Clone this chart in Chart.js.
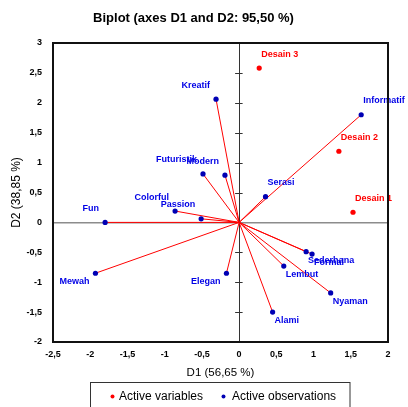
<!DOCTYPE html>
<html>
<head>
<meta charset="utf-8">
<script src="https://cdn.jsdelivr.net/npm/chart.js@4.4.1/dist/chart.umd.min.js"></script>
<style>
  html, body { margin: 0; padding: 0; background: #ffffff; }
  #wrap { width: 408px; height: 407px; position: relative; }
</style>
</head>
<body>
<div id="wrap"><canvas id="biplot" width="408" height="407"></canvas></div>
<script>
// Observations (blue points, each joined to the origin by a red vector)
const observations = ['Kreatif', 'Futuristik', 'Modern', 'Informatif', 'Serasi', 'Colorful', 'Passion', 'Fun',
  'Mewah', 'Elegan', 'Sederhana', 'Formal', 'Lembut', 'Nyaman', 'Alami'];
const obsD1 = [-0.31, -0.485, -0.19, 1.64, 0.355, -0.86, -0.51, -1.80, -1.93, -0.17, 0.90, 0.98, 0.60, 1.23, 0.45];
const obsD2 = [2.06, 0.81, 0.79, 1.80, 0.43, 0.19, 0.06, 0.00, -0.85, -0.85, -0.49, -0.53, -0.73, -1.18, -1.50];

// Variables (red points)
const variables = ['Desain 1', 'Desain 2', 'Desain 3'];
const varD1 = [1.53, 1.34, 0.27];
const varD2 = [0.17, 1.19, 2.58];

// Axis ranges and tick values
const xTickValues = [-2.5, -2, -1.5, -1, -0.5, 0, 0.5, 1, 1.5, 2];
const yTickValues = [-2, -1.5, -1, -0.5, 0, 0.5, 1, 1.5, 2, 2.5, 3];

const FONT = "'Liberation Sans', Arial, sans-serif";
const RED = '#ff0000';
const BLUE_PT = '#0000b4';
const BLUE_TXT = '#0000e6';

const fmt = v => String(v).replace('.', ',');

const obsPoints = observations.map((n, i) => ({ x: obsD1[i], y: obsD2[i] }));
const varPoints = variables.map((n, i) => ({ x: varD1[i], y: varD2[i] }));

const datasets = [
  { label: 'Active variables', data: varPoints, pointRadius: 2.6, pointBackgroundColor: RED,
    pointBorderWidth: 0, showLine: false, order: 0 },
  { label: 'Active observations', data: obsPoints, pointRadius: 2.6, pointBackgroundColor: BLUE_PT,
    pointBorderWidth: 0, showLine: false, order: 1 }
];
obsPoints.forEach(p => {
  datasets.push({ data: [{ x: 0, y: 0 }, p], showLine: true, borderColor: RED, borderWidth: 1,
    pointRadius: 0, order: 5 });
});

// Draws the title, frame, tick marks on the vertical zero axis, point labels and the legend box
const decor = {
  id: 'decor',
  afterDatasetsDraw(chart) {
    const { ctx, chartArea: a, scales: { x, y } } = chart;
    ctx.save();

    // tick marks crossing the D1 = 0 axis
    const x0 = x.getPixelForValue(0);
    ctx.strokeStyle = '#333333';
    ctx.lineWidth = 1;
    yTickValues.forEach(v => {
      if (v === 0 || v === yTickValues[0] || v === yTickValues[yTickValues.length - 1]) return;
      const py = Math.round(y.getPixelForValue(v)) + 0.5;
      ctx.beginPath();
      ctx.moveTo(x0 - 4, py);
      ctx.lineTo(x0 + 3.5, py);
      ctx.stroke();
    });

    // point labels
    ctx.font = 'bold 9px ' + FONT;
    ctx.textBaseline = 'middle';
    const labelSet = (dsIndex, names, values2, colour) => {
      const meta = chart.getDatasetMeta(dsIndex);
      meta.data.forEach((el, i) => {
        const below = values2[i] < -0.3;
        const left = el.x < x0;
        ctx.fillStyle = colour;
        ctx.textAlign = left ? 'right' : 'left';
        ctx.fillText(names[i], left ? el.x - 6 : el.x + 2, below ? el.y + 8.5 : el.y - 14);
      });
    };
    labelSet(0, variables, varD2, RED);
    labelSet(1, observations, obsD2, BLUE_TXT);

    // frame
    ctx.strokeStyle = '#111111';
    ctx.lineWidth = 2;
    ctx.strokeRect(a.left, a.top, a.right - a.left, a.bottom - a.top);

    // title
    ctx.fillStyle = '#000000';
    ctx.font = 'bold 13px ' + FONT;
    ctx.textAlign = 'center';
    ctx.textBaseline = 'middle';
    ctx.fillText('Biplot (axes D1 and D2: 95,50 %)', 193.5, 18.5);

    // legend
    ctx.strokeStyle = '#333333';
    ctx.lineWidth = 1;
    ctx.strokeRect(90.5, 382.5, 259.5, 40);
    ctx.font = '12px ' + FONT;
    ctx.textAlign = 'left';
    ctx.fillStyle = RED;
    ctx.beginPath(); ctx.arc(112.5, 396.5, 2, 0, Math.PI * 2); ctx.fill();
    ctx.fillStyle = '#000000';
    ctx.fillText(datasets[0].label, 119, 396.5);
    ctx.fillStyle = BLUE_PT;
    ctx.beginPath(); ctx.arc(223.5, 396.5, 2, 0, Math.PI * 2); ctx.fill();
    ctx.fillStyle = '#000000';
    ctx.fillText(datasets[1].label, 232, 396.5);

    ctx.restore();
  }
};

new Chart(document.getElementById('biplot'), {
  type: 'scatter',
  data: { datasets },
  options: {
    responsive: false,
    animation: false,
    events: [],
    layout: { padding: { left: 0, top: 43, right: 20, bottom: 0 } },
    plugins: { legend: { display: false }, title: { display: false }, tooltip: { enabled: false } },
    scales: {
      x: {
        type: 'linear', min: -2.5, max: 2,
        afterFit: s => { s.height = 65; },
        afterBuildTicks: s => { s.ticks = xTickValues.map(v => ({ value: v })); },
        grid: { color: c => (c.tick && c.tick.value === 0 ? '#333333' : 'rgba(0,0,0,0)'), lineWidth: 1, drawTicks: false },
        border: { display: false },
        ticks: { padding: 7, color: '#000000', font: { family: FONT, size: 9, weight: 'bold' },
          maxRotation: 0, autoSkip: false, callback: v => fmt(v) },
        title: { display: true, text: 'D1 (56,65 %)', color: '#000000', font: { family: FONT, size: 11.5 },
          padding: { top: 0, bottom: 27 } }
      },
      y: {
        type: 'linear', min: -2, max: 3,
        afterFit: s => { s.width = 53; },
        afterBuildTicks: s => { s.ticks = yTickValues.map(v => ({ value: v })); },
        grid: { color: c => (c.tick && c.tick.value === 0 ? '#8c8c8c' : 'rgba(0,0,0,0)'), lineWidth: 1.5, drawTicks: false },
        border: { display: false },
        ticks: { padding: 11, color: '#000000', font: { family: FONT, size: 9, weight: 'bold' },
          autoSkip: false, callback: v => fmt(v) },
        title: { display: true, text: 'D2 (38,85 %)', color: '#000000', font: { family: FONT, size: 12 },
          padding: { top: 9, bottom: 0 } }
      }
    }
  },
  plugins: [decor]
});
</script>
</body>
</html>
